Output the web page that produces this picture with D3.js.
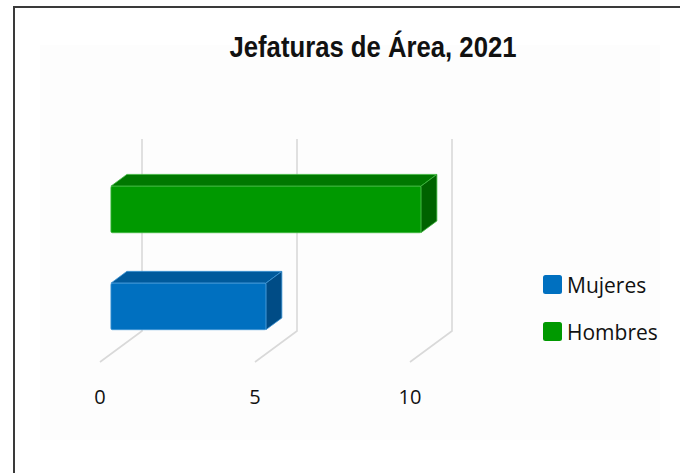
<!DOCTYPE html>
<html lang="es">
<head>
<meta charset="UTF-8">
<title>Jefaturas de Área, 2021</title>
<script src="https://d3js.org/d3.v7.min.js"></script>
<style>
    body { margin: 0; background: #fff; }
    svg { display: block; }
    .tick-label { font-family: "Open Sans", "Noto Sans", sans-serif; font-size: 20px; fill: #111; }
    .legend-label { font-family: "Open Sans", "Noto Sans", sans-serif; font-size: 21px; fill: #111; }
    .title { font-family: "Liberation Sans Narrow", "Liberation Sans", Arial, sans-serif; font-weight: bold; font-size: 30px; fill: #111; }
</style>
</head>
<body>
<div id="chart"></div>
<script>
// datos
const categories = ["Hombres", "Mujeres"];
const values = [10, 5];
const tickValues = [0, 5, 10];
const legendItems = ["Mujeres", "Hombres"];

const colors = {
    Mujeres: { front: "#0070c0", top: "#005a9c", side: "#004c86", edge: "#3d95d6" },
    Hombres: { front: "#009900", top: "#007800", side: "#006200", edge: "#3fb83f" }
};

const W = 680, H = 473;
const svg = d3.select("#chart").append("svg")
    .attr("width", W).attr("height", H);

// marco
svg.append("path")
    .attr("d", `M14,${H} L14,7 L${W},7`)
    .attr("fill", "none").attr("stroke", "#3a3a3a").attr("stroke-width", 2);

// panel interior casi blanco
svg.append("rect")
    .attr("x", 40).attr("y", 45).attr("width", 620).attr("height", 395)
    .attr("fill", "#fdfdfd");

// titulo
svg.append("text")
    .attr("class", "title")
    .attr("x", 373).attr("y", 57)
    .attr("text-anchor", "middle")
    .attr("textLength", 287)
    .attr("lengthAdjust", "spacingAndGlyphs")
    .text("Jefaturas de Área, 2021");

// escalas (en la pared del fondo)
const x = d3.scaleLinear().domain([0, 10]).range([142, 452]);
const y = d3.scaleBand().domain(categories).range([139, 331])
    .paddingInner(0.52).paddingOuter(0.25);

// vector de profundidad (fondo -> frente)
const depth = { dx: -42, dy: 31 };
const tFront = 0.74, tBack = 0.36;

// lineas de cuadricula con suelo
const grid = svg.append("g");
tickValues.forEach(v => {
    const gx = x(v);
    grid.append("path")
        .attr("d", `M${gx},139 L${gx},331 L${gx + depth.dx},${331 + depth.dy}`)
        .attr("fill", "none").attr("stroke", "#d9d9d9").attr("stroke-width", 1.6);
});

// etiquetas del eje
svg.selectAll(".tick-label")
    .data(tickValues)
    .enter().append("text")
    .attr("class", "tick-label")
    .attr("x", d => x(d) + depth.dx)
    .attr("y", 404)
    .attr("text-anchor", "middle")
    .text(d => d);

// barras 3D
const bars = svg.append("g");
categories.forEach((c, i) => {
    const col = colors[c];
    const fx = depth.dx * tFront, fy = depth.dy * tFront;
    const bx = depth.dx * tBack, by = depth.dy * tBack;
    const x0 = x(0), x1 = x(values[i]);
    const yt = y(c), yb = y(c) + y.bandwidth();

    // cara superior
    bars.append("path")
        .attr("d", `M${x0 + fx},${yt + fy} L${x0 + bx},${yt + by} L${x1 + bx},${yt + by} L${x1 + fx},${yt + fy} Z`)
        .attr("fill", col.top).attr("stroke", col.edge).attr("stroke-width", 0.8)
        .attr("stroke-linejoin", "round");
    // cara lateral
    bars.append("path")
        .attr("d", `M${x1 + fx},${yt + fy} L${x1 + bx},${yt + by} L${x1 + bx},${yb + by} L${x1 + fx},${yb + fy} Z`)
        .attr("fill", col.side).attr("stroke", col.edge).attr("stroke-width", 0.8)
        .attr("stroke-linejoin", "round");
    // cara frontal
    bars.append("rect")
        .attr("x", x0 + fx).attr("y", yt + fy)
        .attr("width", x1 - x0).attr("height", yb - yt)
        .attr("rx", 1.5)
        .attr("fill", col.front).attr("stroke", col.edge).attr("stroke-width", 0.8);
});

// leyenda
const legend = svg.append("g");
legendItems.forEach((name, i) => {
    const ly = 275 + i * 47;
    legend.append("rect")
        .attr("x", 543).attr("y", ly).attr("width", 19).attr("height", 19)
        .attr("rx", 2.5)
        .attr("fill", colors[name].front);
    legend.append("text")
        .attr("class", "legend-label")
        .attr("x", 567).attr("y", ly + 18)
        .text(name);
});
</script>
</body>
</html>
